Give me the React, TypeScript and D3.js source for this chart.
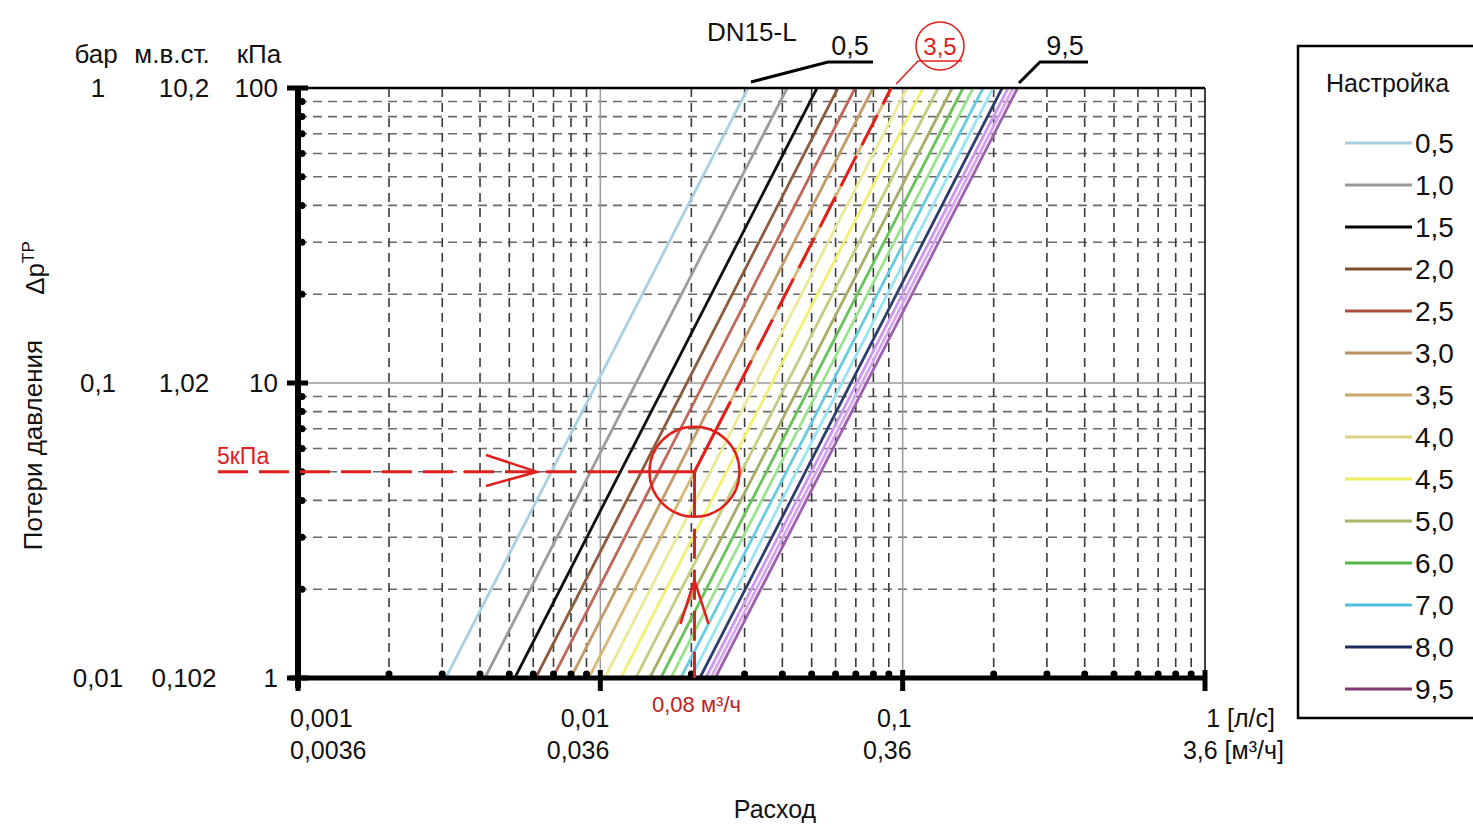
import React from "react";
import * as d3 from "d3";

// ---- data ----
const settingLabels = ["0,5","1,0","1,5","2,0","2,5","3,0","3,5","4,0","4,5","5,0","5,5","6,0","6,5","7,0","7,5","8,0","8,5","9,0","9,5"];
// flow (l/s) at 100 kPa for each setting; Δp ∝ Q²
const settingFlow100 = [0.0308,0.0415,0.0521,0.0611,0.0696,0.0798,0.0916,0.1034,0.1168,0.1310,0.1457,0.1584,0.1710,0.1845,0.1991,0.2133,0.2232,0.2318,0.2400];
const settingColors = ["#a9cfe2","#9c9c9c","#111111","#8a5c3c","#c06858","#c49a68","#d8b878","#ece89a","#f2f070","#c4cc80","#a8ac64","#68c458","#98e48c","#68cce0","#98e4f0","#2c3c6c","#cc98ec","#d8a4f0","#a060b0"];
const legendLabels = ["0,5","1,0","1,5","2,0","2,5","3,0","3,5","4,0","4,5","5,0","6,0","7,0","8,0","9,5"];
const legendColors = ["#a8cfe0","#9a9a9a","#000000","#7a4e2e","#b0503c","#b99060","#c8a868","#e0d080","#ecec60","#a8b868","#50b848","#50c0e0","#1c2c60","#803870"];

const kPaTicks = [1, 10, 100];
const kPaLabels = ["1", "10", "100"];
const mwcLabels = ["0,102", "1,02", "10,2"];
const barLabels = ["0,01", "0,1", "1"];

const flowTicks = [0.001, 0.01, 0.1, 1];
const flowLabelsLs = ["0,001", "0,01", "0,1", "1 [л/с]"];
const flowLabelsM3 = ["0,0036", "0,036", "0,36", "3,6 [м³/ч]"];

const markerDp = 5; // kPa
const markerSetting = "3,5";

const FONT = "'Liberation Sans', Arial, sans-serif";

export default function App() {
  const W = 1473, H = 824;
  const x = d3.scaleLog().domain([0.001, 1]).range([298, 1205]);
  const y = d3.scaleLog().domain([1, 100]).range([678, 88]);

  const minorX: number[] = [];
  const minorY: number[] = [];
  [0.001, 0.01, 0.1].forEach((d) => { for (let k = 2; k <= 9; k++) minorX.push(d * k); });
  [1, 10].forEach((d) => { for (let k = 2; k <= 9; k++) minorY.push(d * k); });

  const line = d3.line<[number, number]>().x((d) => x(d[0])).y((d) => y(d[1]));

  const mIdx = settingLabels.indexOf(markerSetting);
  const q100 = settingFlow100[mIdx];
  const qm = q100 * Math.sqrt(markerDp / 100);
  const cx = x(qm), cy = y(markerDp), r = 45;
  const tx = x(q100), ty = y(100);
  const len = Math.hypot(tx - cx, ty - cy);
  const ex = cx + (r * (tx - cx)) / len, ey = cy + (r * (ty - cy)) / len;
  const red = "#e0201c";

  return (
    <svg width={W} height={H} style={{ position: "absolute", left: 0, top: 0, background: "#fff" }} fontFamily={FONT}>
      <defs>
        <clipPath id="plot">
          <rect x={298} y={88} width={907} height={590} />
        </clipPath>
      </defs>
      <rect x={0} y={0} width={W} height={H} fill="#fff" />

      {/* grid */}
      {minorY.map((v) => (
        <line key={"gy" + v} x1={298} x2={1205} y1={y(v)} y2={y(v)} stroke="#6a6a6a" strokeWidth={1.6} strokeDasharray="9,6" />
      ))}
      {minorX.map((v) => (
        <line key={"gx" + v} x1={x(v)} x2={x(v)} y1={88} y2={678} stroke="#3a3a3a" strokeWidth={1.6} strokeDasharray="9,6" />
      ))}
      <line x1={298} x2={1205} y1={y(10)} y2={y(10)} stroke="#9a9a9a" strokeWidth={1.5} />
      {[0.01, 0.1].map((v) => (
        <line key={"mx" + v} x1={x(v)} x2={x(v)} y1={88} y2={678} stroke="#9a9a9a" strokeWidth={1.5} />
      ))}

      {/* series */}
      <g clipPath="url(#plot)">
        {settingFlow100.map((q, i) => (
          <path key={"s" + i} d={line([[q / 10, 1], [q, 100]]) || ""} fill="none" stroke={settingColors[i]} strokeWidth={2.8} />
        ))}
      </g>

      {/* frame */}
      <line x1={298} x2={1205} y1={88} y2={88} stroke="#000" strokeWidth={2.5} />
      <line x1={1205} x2={1205} y1={88} y2={678} stroke="#000" strokeWidth={1.5} />
      <line x1={290} x2={1207} y1={678} y2={678} stroke="#000" strokeWidth={5} />
      <line x1={298} x2={298} y1={86} y2={688} stroke="#000" strokeWidth={6} />
      {minorY.map((v) => (
        <circle key={"ty" + v} cx={302} cy={y(v)} r={3.5} fill="#000" />
      ))}
      {minorX.map((v) => (
        <circle key={"tx" + v} cx={x(v)} cy={674} r={3.5} fill="#000" />
      ))}
      {kPaTicks.map((v) => (
        <line key={"my" + v} x1={287} x2={308} y1={y(v)} y2={y(v)} stroke="#000" strokeWidth={5} />
      ))}
      {flowTicks.map((v) => (
        <line key={"mxt" + v} x1={x(v)} x2={x(v)} y1={670} y2={691} stroke="#000" strokeWidth={5} />
      ))}

      {/* left axis labels */}
      <g fontSize={26} fill="#111">
        <text x={96} y={63} textAnchor="middle">бар</text>
        <text x={172} y={63} textAnchor="middle">м.в.ст.</text>
        <text x={259} y={63} textAnchor="middle">кПа</text>
        {kPaTicks.map((v, i) => (
          <g key={"yl" + v}>
            <text x={98} y={y(v) + 9} textAnchor="middle">{barLabels[i]}</text>
            <text x={184} y={y(v) + 9} textAnchor="middle">{mwcLabels[i]}</text>
            <text x={278} y={y(v) + 9} textAnchor="end">{kPaLabels[i]}</text>
          </g>
        ))}
      </g>
      <g fontSize={26} fill="#111">
        <text transform="translate(42,445) rotate(-90)" textAnchor="middle">Потери давления</text>
        <text transform="translate(44,268) rotate(-90)" textAnchor="middle">
          Δp<tspan dy={-10} fontSize={17}>ТР</tspan>
        </text>
      </g>

      {/* bottom axis labels */}
      <g fontSize={25} fill="#111">
        {flowTicks.map((v, i) => {
          const last = i === flowTicks.length - 1;
          const anchor = i === 0 ? "start" : "end";
          const xs = i === 0 ? x(v) - 8 : last ? x(v) + 70 : x(v) + 9;
          const xs2 = i === 0 ? x(v) - 8 : last ? x(v) + 79 : x(v) + 9;
          return (
            <g key={"xl" + v}>
              <text x={xs} y={727} textAnchor={anchor}>{flowLabelsLs[i]}</text>
              <text x={xs2} y={759} textAnchor={anchor}>{flowLabelsM3[i]}</text>
            </g>
          );
        })}
        <text x={775} y={818} textAnchor="middle">Расход</text>
      </g>

      {/* red annotation */}
      <g stroke={red} fill="none" strokeWidth={3}>
        <line x1={218} x2={cx - r} y1={cy} y2={cy} strokeDasharray="30,11" />
        <line x1={cx - r} x2={cx} y1={cy} y2={cy} />
        <line x1={cx} x2={cx} y1={cy} y2={cy + r} />
        <line x1={cx} x2={cx} y1={cy + r + 12} y2={678} strokeDasharray="30,11" />
        <line x1={cx} x2={ex} y1={cy} y2={ey} />
        <line x1={ex} x2={tx} y1={ey} y2={ty} strokeDasharray="34,12" />
        <circle cx={cx} cy={cy} r={r} strokeWidth={2.5} />
        <polyline points={`486,455 537,${cy} 486,486`} strokeWidth={2.5} />
        <polyline points={`${cx - 14},624 ${cx},580 ${cx + 14},624`} strokeWidth={2.5} />
      </g>
      <text x={217} y={464} fontSize={23} fill={red}>5кПа</text>
      <text x={652} y={712} fontSize={22} fill="#c0201c">0,08 м³/ч</text>

      {/* series callouts */}
      <text x={707} y={41} fontSize={26} fill="#111">DN15-L</text>
      <text x={850} y={55} fontSize={27} fill="#111" textAnchor="middle">0,5</text>
      <polyline points="873,62 828,62 751,82" fill="none" stroke="#000" strokeWidth={3} />
      <text x={1065} y={55} fontSize={27} fill="#111" textAnchor="middle">9,5</text>
      <polyline points="1088,62 1040,62 1019,83" fill="none" stroke="#000" strokeWidth={3} />
      <circle cx={940} cy={46} r={24} fill="none" stroke={red} strokeWidth={1.6} />
      <text x={940} y={55} fontSize={24} fill={red} textAnchor="middle">3,5</text>
      <polyline points={`962,61 918,61 ${tx + 5},${ty - 4}`} fill="none" stroke={red} strokeWidth={1.6} />

      {/* legend */}
      <rect x={1298} y={46} width={200} height={672} fill="#fff" stroke="#000" strokeWidth={2.5} />
      <text x={1326} y={92} fontSize={25} fill="#111">Настройка</text>
      {legendLabels.map((lab, i) => {
        const ly = 143 + i * 42;
        return (
          <g key={"lg" + lab}>
            <line x1={1345} x2={1412} y1={ly} y2={ly} stroke={legendColors[i]} strokeWidth={3.2} />
            <text x={1415} y={ly + 10} fontSize={28} fill="#111">{lab}</text>
          </g>
        );
      })}
    </svg>
  );
}
